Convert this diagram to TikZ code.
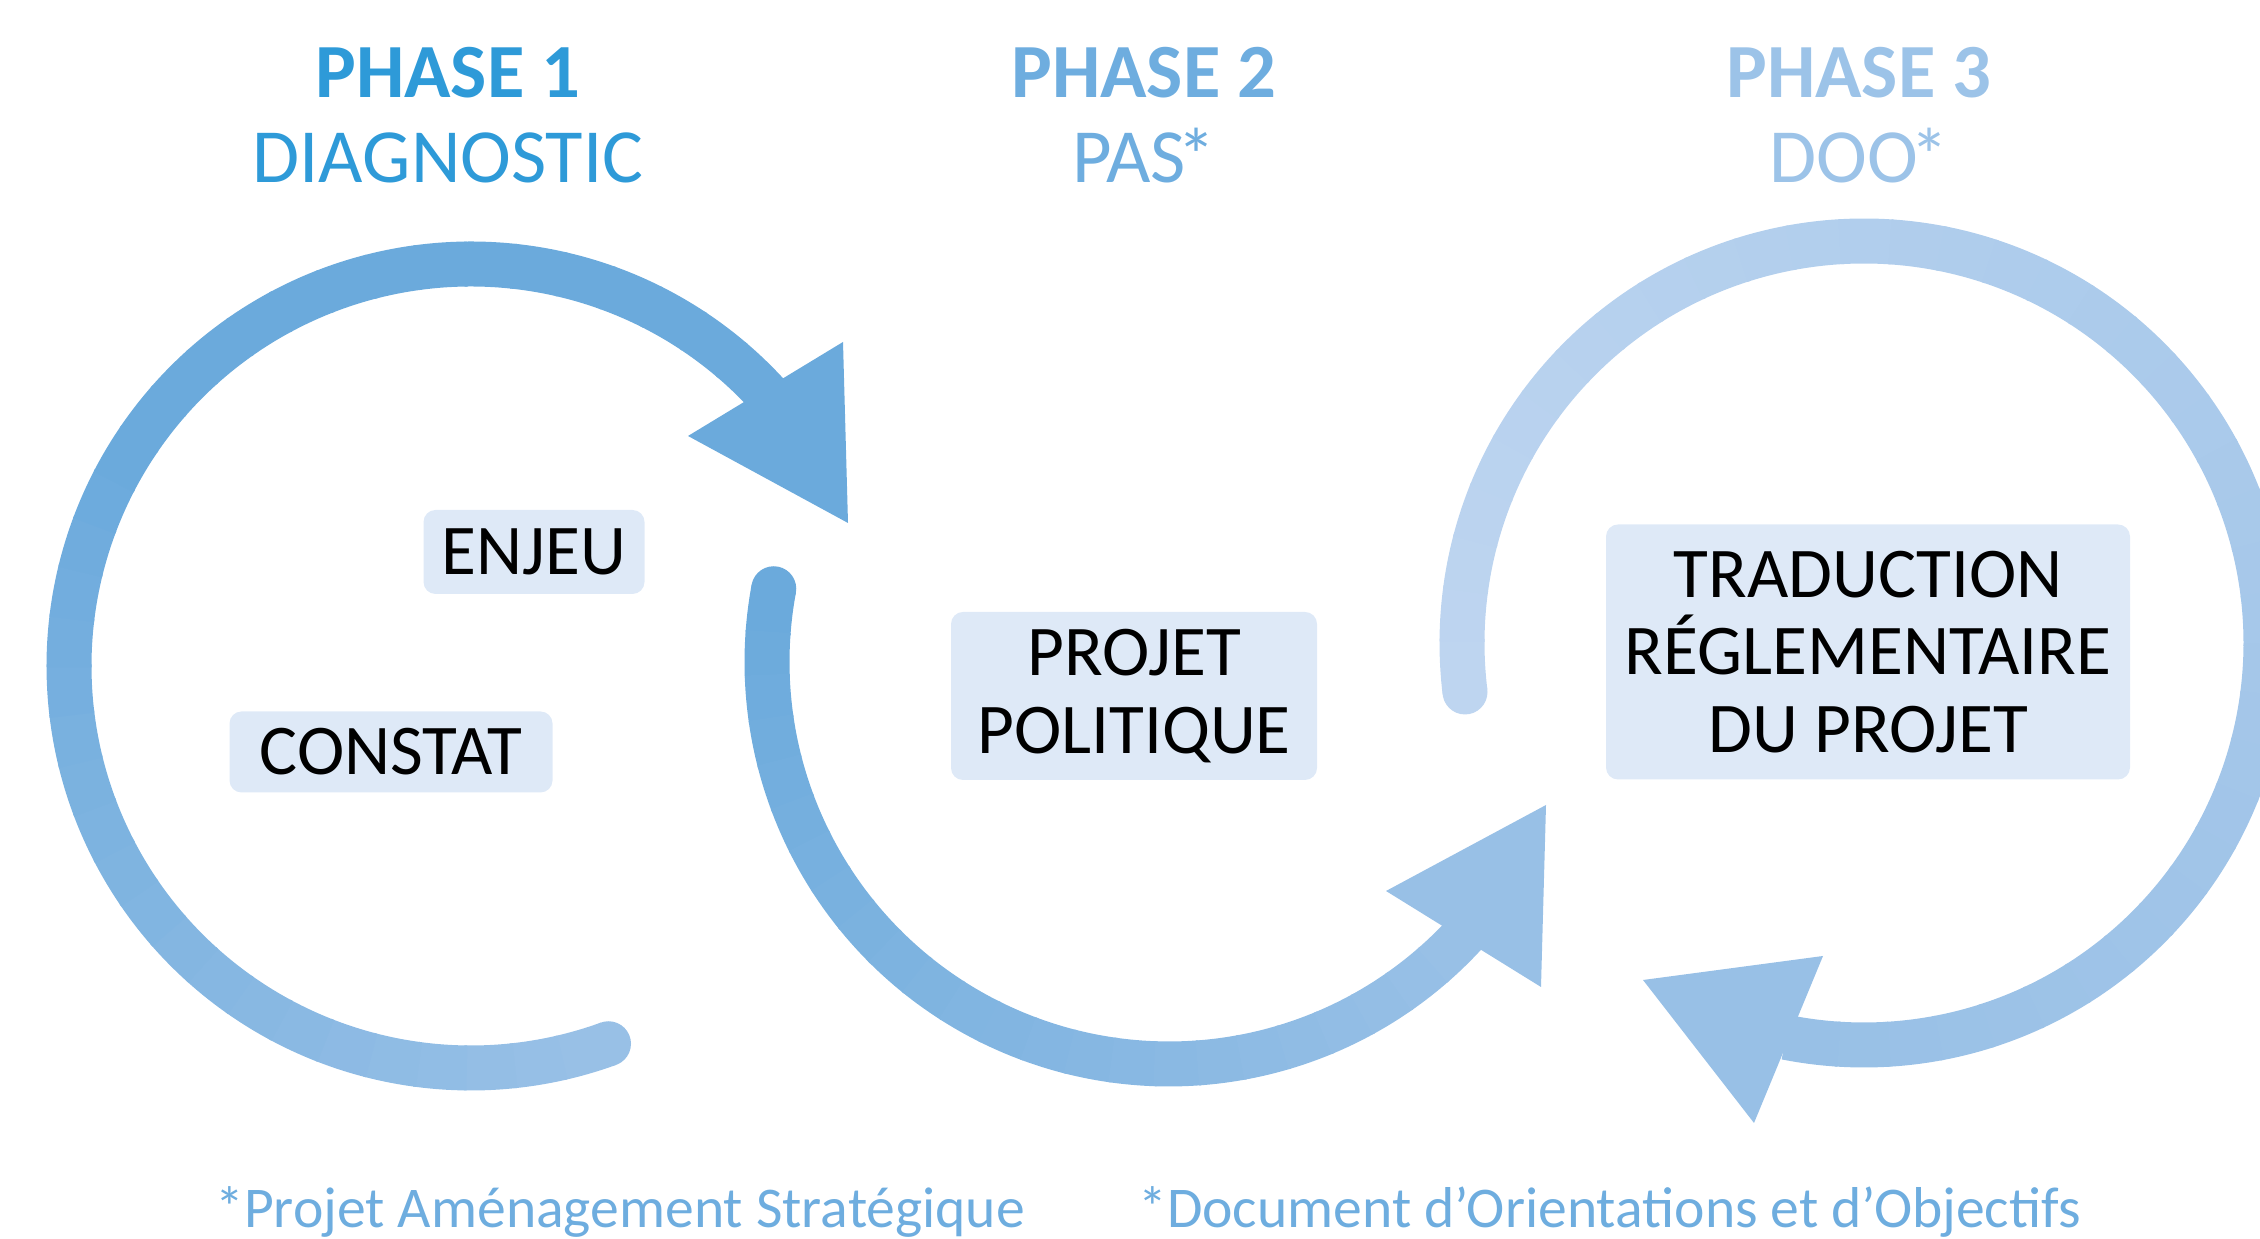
\documentclass[tikz,border=0pt]{standalone}
\usepackage{fontspec}
\setmainfont{Carlito}
\usetikzlibrary{calc}

\definecolor{blueone}{HTML}{2E9AD8}
\definecolor{bluetwo}{HTML}{6EADDF}
\definecolor{bluethree}{HTML}{9CC3E8}
\definecolor{boxfill}{HTML}{DEE9F7}
\definecolor{ringtop}{HTML}{6BAADC}
\definecolor{ringlow}{HTML}{98C0E6}
\definecolor{ringpale}{HTML}{BED5F0}

\begin{document}
\begin{tikzpicture}[
	ring/.style={line width=4.5mm},
	stage/.style={fill=boxfill, rounded corners=1.2mm, inner sep=0pt, align=center,
		font=\fontsize{20.3}{22}\selectfont},
	title/.style={anchor=base, font=\fontsize{21.8}{24}\selectfont},
	note/.style={text=bluetwo, anchor=base west, font=\fontsize{16.4}{20}\selectfont}]

	\useasboundingbox (0,0) rectangle (22.6,12.39);
	\clip (0,0) rectangle (22.6,12.39);

	% ring centres
	\coordinate (c1) at (4.71,5.73);
	\coordinate (c2) at (11.69,5.77);
	\coordinate (c3) at (18.64,5.96);

	% phase 1 ring
	\fill[ringlow] ($(c1)+(-70:4.02)$) circle[radius=2.25mm];
	\foreach \i in {0,...,35} {
		\pgfmathsetmacro\a{-70-\i*247.1/36}
		\pgfmathsetmacro\b{\a-247.1/36-0.4}
		\pgfmathsetmacro\p{min(100,\i*100/20)}
		\draw[ring, color=ringtop!\p!ringlow] ($(c1)+(\a:4.02)$) arc[start angle=\a, end angle=\b, radius=4.02];
	}
	\fill[ringtop] (6.88,8.03) -- (8.43,8.97) -- (8.48,7.16) -- cycle;

	% phase 2 ring
	\fill[ringtop] ($(c2)+(169.5:4.02)$) circle[radius=2.25mm];
	\foreach \i in {0,...,23} {
		\pgfmathsetmacro\a{169.5+\i*147.6/24}
		\pgfmathsetmacro\b{\a+147.6/24+0.4}
		\pgfmathsetmacro\p{\i*100/23}
		\draw[ring, color=ringlow!\p!ringtop] ($(c2)+(\a:4.02)$) arc[start angle=\a, end angle=\b, radius=4.02];
	}
	\fill[ringlow] (13.86,3.48) -- (15.46,4.34) -- (15.41,2.52) -- cycle;

	% phase 3 ring
	\fill[ringpale] ($(c3)+(187:4.02)$) circle[radius=2.25mm];
	\foreach \i in {0,...,39} {
		\pgfmathsetmacro\a{187-\i*287.8/40}
		\pgfmathsetmacro\b{\a-287.8/40-0.4}
		\pgfmathsetmacro\p{\i*100/39}
		\draw[ring, color=ringlow!\p!ringpale] ($(c3)+(\a:4.02)$) arc[start angle=\a, end angle=\b, radius=4.02];
	}
	\fill[ringlow] (18.23,2.83) -- (16.43,2.59) -- (17.54,1.16) -- cycle;

	% titles
	\node[title, text=blueone] (phase1) at (4.48,11.41) {\textbf{PHASE 1}};
	\node[title, text=blueone] (diag) at (4.48,10.56) {DIAGNOSTIC};
	\node[title, text=bluetwo] (phase2) at (11.44,11.41) {\textbf{PHASE 2}};
	\node[title, text=bluetwo] (pas) at (11.44,10.56) {PAS\kern-.1em*};
	\node[title, text=bluethree] (phase3) at (18.59,11.41) {\textbf{PHASE 3}};
	\node[title, text=bluethree] (doo) at (18.59,10.56) {DOO\kern-.1em*};

	% boxes
	\node[stage, minimum width=2.21cm, minimum height=.84cm] (enjeu) at (5.34,6.87) {ENJEU};
	\node[stage, minimum width=3.23cm, minimum height=.81cm] (constat) at (3.91,4.87) {CONSTAT};
	\node[stage, minimum width=3.66cm, minimum height=1.68cm] (projet) at (11.34,5.43) {PROJET\\POLITIQUE};
	\node[stage, minimum width=5.24cm, minimum height=2.55cm] (trad) at (18.68,5.87) {TRADUCTION\\RÉGLEMENTAIRE\\DU PROJET};

	% footnotes
	\node[note] (notepas) at (2.03,0.11) {*Projet Aménagement Stratégique};
	\node[note] (notedoo) at (11.26,0.11) {*Document d’Orientations et d’Objectifs};
\end{tikzpicture}
\end{document}
